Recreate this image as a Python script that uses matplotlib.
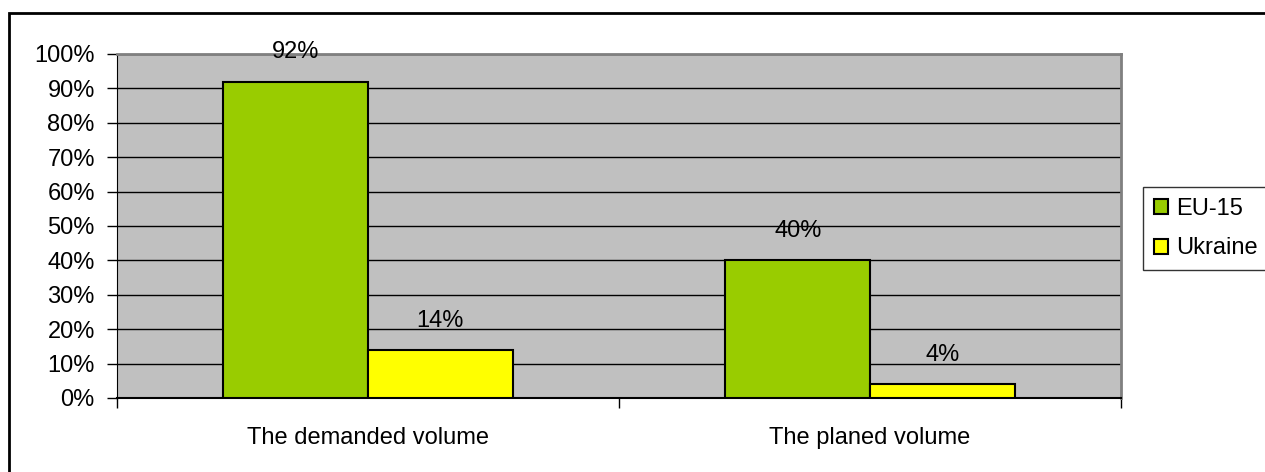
import matplotlib
matplotlib.use("Agg")
import matplotlib.pyplot as plt
from matplotlib.patches import Rectangle
import numpy as np

plt.rcParams['font.family'] = ['Liberation Sans', 'DejaVu Sans']

categories = ["The demanded volume", "The planed volume"]
series_names = ["EU-15", "Ukraine"]
eu15 = [92, 40]
ukraine = [14, 4]
yticks = [0, 10, 20, 30, 40, 50, 60, 70, 80, 90, 100]

W, H = 1265, 472
fig = plt.figure(figsize=(W/100, H/100), dpi=100)
fig.patch.set_facecolor('white')

# figure border
fig.add_artist(Rectangle((9/W, -0.05), 1.2, 1 - 13/H + 0.05, transform=fig.transFigure,
                         fill=False, edgecolor='black', linewidth=2))

left, right, top, bottom = 117, 1121, 54, 398
ax = fig.add_axes([left/W, 1 - bottom/H, (right-left)/W, (bottom-top)/H])
ax.set_facecolor('#C0C0C0')

x = np.arange(len(categories))
bw = 0.288
fs = 17
cols = ['#99CC00', '#FFFF00']
for i, (vals, c, name) in enumerate(zip([eu15, ukraine], cols, series_names)):
    pos = x + (i - 0.5) * bw
    ax.bar(pos, vals, width=bw, color=c, edgecolor='black', linewidth=1.5, label=name, zorder=3)
    for p, v in zip(pos, vals):
        ax.annotate(f"{v}%", (p, v), xytext=(0, 13), textcoords='offset points',
                    ha='center', va='bottom', fontsize=fs, zorder=4)

ax.set_xlim(-0.5, len(categories) - 0.5)
ax.set_ylim(0, 100)
ax.set_yticks(yticks)
ax.set_yticklabels([f"{t}%" for t in yticks], fontsize=fs)
ax.yaxis.grid(True, color='black', linewidth=1, zorder=1)
ax.set_axisbelow(True)
ax.set_xticks(x)
ax.set_xticklabels(categories, fontsize=fs)
ax.set_xticks([-0.5, 0.5, 1.5], minor=True)
ax.tick_params(axis='x', which='major', length=0, pad=21)
ax.tick_params(axis='x', which='minor', length=7, width=1, color='black', direction='out')
ax.tick_params(axis='y', length=7, width=1, direction='out', pad=9)
for s in ['top', 'right']:
    ax.spines[s].set_color('#808080')
    ax.spines[s].set_linewidth(2)
ax.spines['left'].set_color('black')
ax.spines['bottom'].set_color('black')
ax.spines['bottom'].set_linewidth(1.5)

leg = fig.legend(loc='upper left', bbox_to_anchor=(1143/W, 1 - 187/H), fontsize=fs,
                 frameon=True, fancybox=False, edgecolor='black', handlelength=0.6,
                 handleheight=0.6, handletextpad=0.35, borderpad=0.45, labelspacing=0.75,
                 borderaxespad=0)
leg.get_frame().set_linewidth(1)

fig.savefig("out.png", dpi=100)
